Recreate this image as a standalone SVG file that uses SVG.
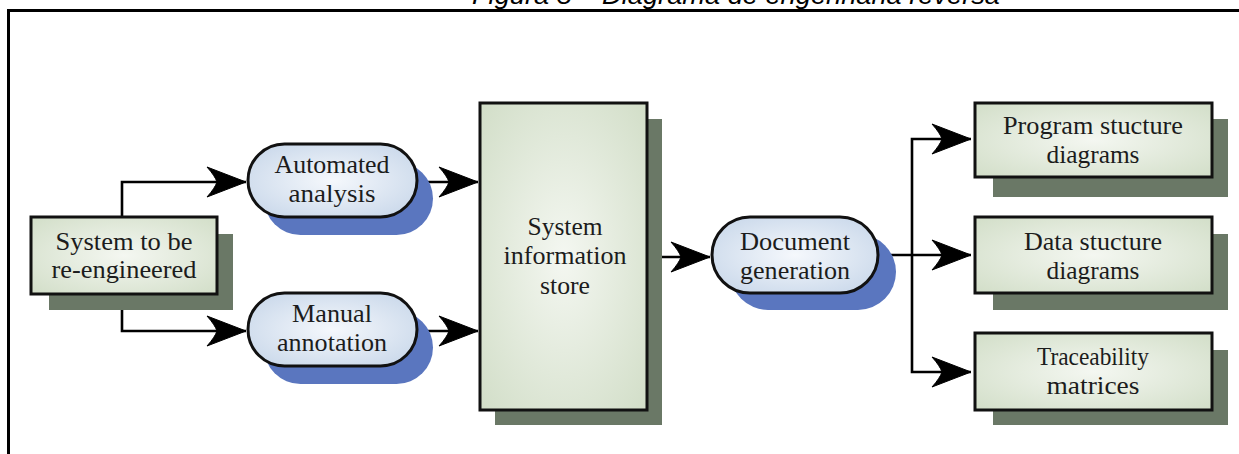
<svg xmlns="http://www.w3.org/2000/svg" width="1239" height="454" viewBox="0 0 1239 454">
<style>
.box{stroke:#111;stroke-width:3;fill:url(#gGreen)}
.pill{stroke:#111;stroke-width:3;fill:url(#gBlue)}
.sh{fill:#6a7866}
.shb{fill:#5a76bf}
.t{font-family:"Liberation Serif","Times New Roman",serif;font-size:26px;fill:#1c1c1c;text-anchor:middle}
.c{fill:none;stroke:#000;stroke-width:2.6}
</style>
<defs>
<radialGradient id="gGreen" cx="0.5" cy="0.5" r="0.7">
<stop offset="0" stop-color="#f4f7f1"/>
<stop offset="1" stop-color="#d2dec8"/>
</radialGradient>
<radialGradient id="gBlue" cx="0.5" cy="0.5" r="0.7">
<stop offset="0" stop-color="#f5f8fc"/>
<stop offset="1" stop-color="#c4d4e8"/>
</radialGradient>
<marker id="arr" markerUnits="userSpaceOnUse" markerWidth="44" markerHeight="36" refX="0" refY="0" viewBox="-41 -18 43 36" orient="auto">
<path d="M0,0 L-39,-15 Q-31,-6 -29,0 Q-31,6 -39,15 Z" fill="#000" stroke="#000" stroke-width="1" stroke-linejoin="round"/>
</marker>
</defs>
<rect width="1239" height="454" fill="#fff"/>
<text x="736" y="4" font-family="Liberation Sans, Arial, sans-serif" font-style="italic" font-size="25" text-anchor="middle" fill="#000" textLength="528" lengthAdjust="spacingAndGlyphs">Figura 5 – Diagrama de engenharia reversa</text>
<path d="M8.5,454 V10.5 H1239" fill="none" stroke="#000" stroke-width="3"/>

<g id="connectors">
<path class="c" d="M122,217 V182 H246" marker-end="url(#arr)"/>
<path class="c" d="M122,294 V331 H246" marker-end="url(#arr)"/>
<path class="c" d="M417,182 H478" marker-end="url(#arr)"/>
<path class="c" d="M417,331 H478" marker-end="url(#arr)"/>
<path class="c" d="M647,257 H710" marker-end="url(#arr)"/>
<path class="c" d="M878,255 H971" marker-end="url(#arr)"/>
<path class="c" d="M912,255 V139 H971" marker-end="url(#arr)"/>
<path class="c" d="M912,255 V372 H971" marker-end="url(#arr)"/>
</g>

<g id="system">
<rect class="sh" x="49" y="234" width="184" height="76"/>
<rect class="box" x="31" y="217" width="186" height="77"/>
<text class="t" x="124" y="250" textLength="137" lengthAdjust="spacingAndGlyphs">System to be</text>
<text class="t" x="124" y="278" textLength="145" lengthAdjust="spacingAndGlyphs">re-engineered</text>
</g>

<g id="automated">
<rect class="shb" x="264" y="162" width="169" height="73" rx="36.5"/>
<rect class="pill" x="248" y="144" width="169" height="73" rx="36.5"/>
<text class="t" x="332" y="173" textLength="115" lengthAdjust="spacingAndGlyphs">Automated</text>
<text class="t" x="332" y="202" textLength="87" lengthAdjust="spacingAndGlyphs">analysis</text>
</g>

<g id="manual">
<rect class="shb" x="264" y="311" width="169" height="73" rx="36.5"/>
<rect class="pill" x="248" y="293" width="169" height="73" rx="36.5"/>
<text class="t" x="332" y="322" textLength="80" lengthAdjust="spacingAndGlyphs">Manual</text>
<text class="t" x="332" y="351" textLength="110" lengthAdjust="spacingAndGlyphs">annotation</text>
</g>

<g id="store">
<rect class="sh" x="495" y="119" width="167" height="306"/>
<rect class="box" x="480" y="103" width="167" height="307"/>
<text class="t" x="565" y="235" textLength="75" lengthAdjust="spacingAndGlyphs">System</text>
<text class="t" x="565" y="264" textLength="123" lengthAdjust="spacingAndGlyphs">information</text>
<text class="t" x="565" y="294" textLength="50" lengthAdjust="spacingAndGlyphs">store</text>
</g>

<g id="docgen">
<rect class="shb" x="730" y="234" width="166" height="76" rx="38"/>
<rect class="pill" x="712" y="217" width="166" height="76" rx="38"/>
<text class="t" x="795" y="250" textLength="110" lengthAdjust="spacingAndGlyphs">Document</text>
<text class="t" x="795" y="279" textLength="110" lengthAdjust="spacingAndGlyphs">generation</text>
</g>

<g id="program">
<rect class="sh" x="993" y="119" width="235" height="78"/>
<rect class="box" x="975" y="103" width="237" height="74"/>
<text class="t" x="1093" y="134" textLength="180" lengthAdjust="spacingAndGlyphs">Program stucture</text>
<text class="t" x="1093" y="163" textLength="93" lengthAdjust="spacingAndGlyphs">diagrams</text>
</g>

<g id="data">
<rect class="sh" x="993" y="234" width="235" height="76"/>
<rect class="box" x="975" y="217" width="237" height="76"/>
<text class="t" x="1093" y="250" textLength="138" lengthAdjust="spacingAndGlyphs">Data stucture</text>
<text class="t" x="1093" y="279" textLength="93" lengthAdjust="spacingAndGlyphs">diagrams</text>
</g>

<g id="traceability">
<rect class="sh" x="993" y="350" width="235" height="75"/>
<rect class="box" x="975" y="333" width="237" height="77"/>
<text class="t" x="1093" y="365" textLength="112" lengthAdjust="spacingAndGlyphs">Traceability</text>
<text class="t" x="1093" y="394" textLength="93" lengthAdjust="spacingAndGlyphs">matrices</text>
</g>
</svg>
